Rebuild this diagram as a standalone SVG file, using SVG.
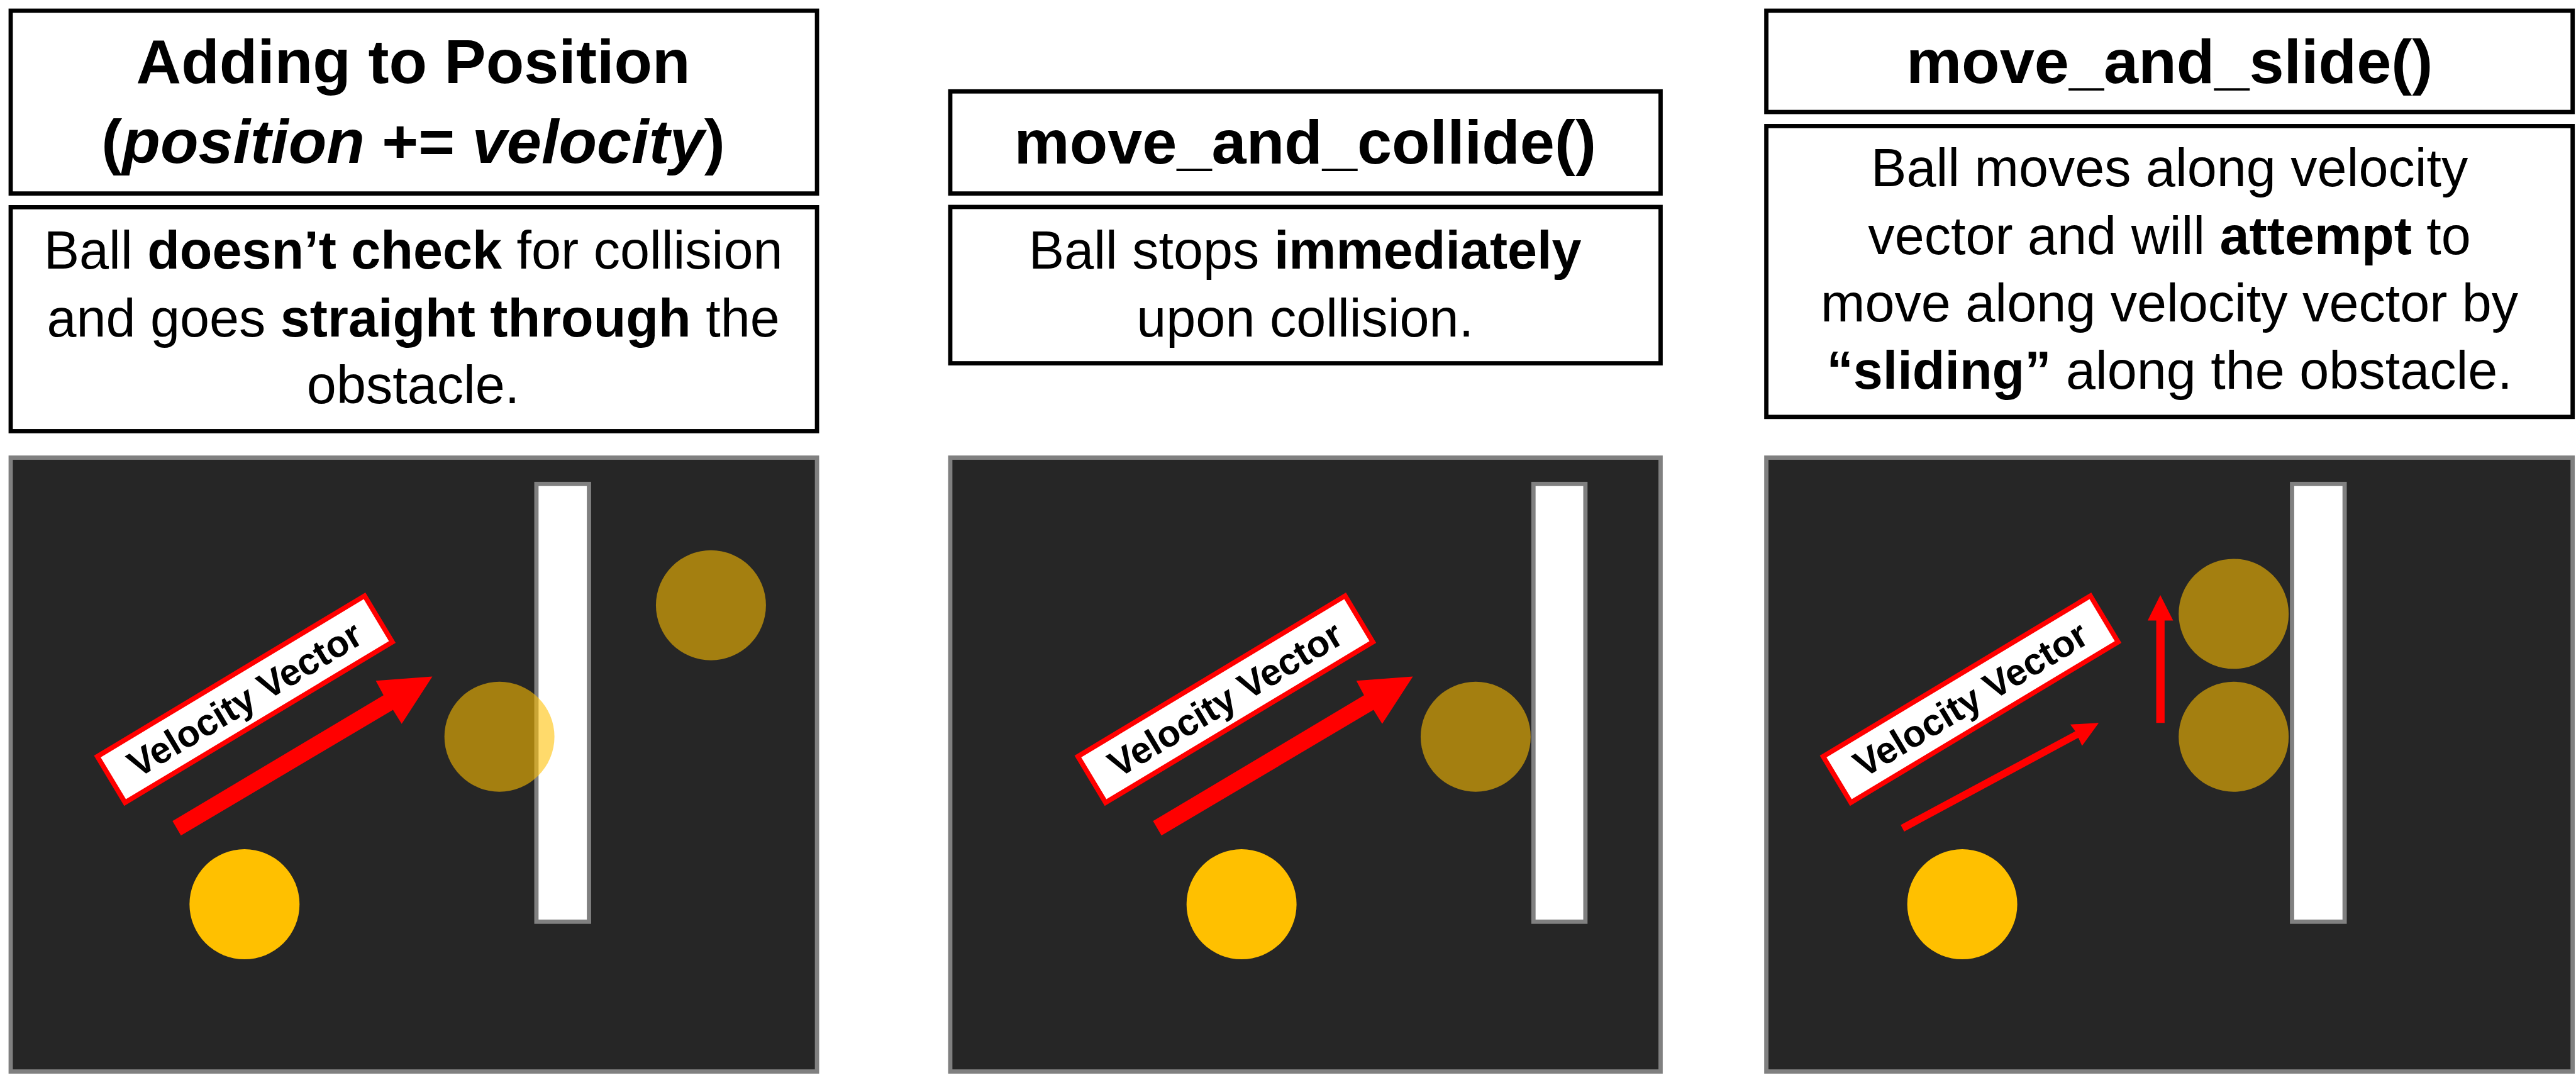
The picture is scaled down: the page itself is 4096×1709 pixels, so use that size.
<svg xmlns="http://www.w3.org/2000/svg" width="4096" height="1709" viewBox="0 0 4096 1709">
<style>
.box{fill:#fff;stroke:#000;stroke-width:7}
.panel{fill:#262626;stroke:#808080;stroke-width:7}
.wall{fill:#fff;stroke:#808080;stroke-width:7}
.ball{fill:#FFC000}
.ghost{fill:#FFC000;fill-opacity:0.58}
.lblbox{fill:#fff;stroke:#f00;stroke-width:8}
.lbl{font-family:"Liberation Sans",Arial,sans-serif;font-weight:bold;font-size:61px;text-anchor:middle;fill:#000}
.title{font-family:"Liberation Sans",Arial,sans-serif;font-weight:bold;font-size:102px;text-anchor:middle;fill:#000}
.desc{font-family:"Liberation Sans",Arial,sans-serif;font-weight:normal;font-size:87px;text-anchor:middle;fill:#000}
.b{font-weight:bold}
.i{font-style:italic}
.arrow{fill:#f00}
</style>
<rect width="4096" height="1709" fill="#fff"/>
<g transform="scale(0.972)">
  <!-- Column 1 -->
  <g id="title1">
    <rect class="box" x="17.5" y="17.5" width="1319" height="299"/>
    <text class="title" x="676" y="136">Adding to Position</text>
    <text class="title" x="676" y="266">(<tspan class="i">position</tspan> += <tspan class="i">velocity</tspan>)</text>
  </g>
  <g id="desc1">
    <rect class="box" x="17.5" y="338.9" width="1319" height="366.3"/>
    <text class="desc" x="676" y="439">Ball <tspan class="b">doesn’t check</tspan> for collision</text>
    <text class="desc" x="676" y="550">and goes <tspan class="b">straight through</tspan> the</text>
    <text class="desc" x="676" y="659">obstacle.</text>
  </g>
  <g id="panel1">
    <rect class="panel" x="17.5" y="748.5" width="1319" height="1004"/>
    <rect class="wall" x="877.5" y="791.5" width="86" height="716"/>
    <circle class="ball" cx="400" cy="1479" r="90"/>
    <circle class="ghost" cx="817" cy="1205" r="90"/>
    <circle class="ghost" cx="1163" cy="990" r="90"/>
    <g transform="translate(400.5,1143.6) rotate(-31)">
      <rect class="lblbox" x="-255" y="-44" width="510" height="88"/>
      <text class="lbl" x="0" y="21">Velocity Vector</text>
    </g>
  </g>

  <!-- Column 2 -->
  <g id="title2">
    <rect class="box" x="1554.5" y="149.5" width="1162" height="167"/>
    <text class="title" x="2135" y="267">move_and_collide()</text>
  </g>
  <g id="desc2">
    <rect class="box" x="1554.5" y="338.5" width="1162" height="255.7"/>
    <text class="desc" x="2135" y="439">Ball stops <tspan class="b">immediately</tspan></text>
    <text class="desc" x="2135" y="550">upon collision.</text>
  </g>
  <g id="panel2">
    <rect class="panel" x="1554.5" y="748.5" width="1162" height="1004"/>
    <rect class="wall" x="2508.5" y="791.5" width="85" height="716"/>
    <circle class="ball" cx="2031" cy="1479" r="90"/>
    <circle class="ghost" cx="2414" cy="1205" r="90"/>
    <g transform="translate(2004.5,1143.6) rotate(-31)">
      <rect class="lblbox" x="-255" y="-44" width="510" height="88"/>
      <text class="lbl" x="0" y="21">Velocity Vector</text>
    </g>
  </g>

  <!-- Column 3 -->
  <g id="title3">
    <rect class="box" x="2889.5" y="17.5" width="1319" height="165.7"/>
    <text class="title" x="3549" y="136">move_and_slide()</text>
  </g>
  <g id="desc3">
    <rect class="box" x="2889.5" y="206.2" width="1319" height="475.7"/>
    <text class="desc" x="3549" y="305">Ball moves along velocity</text>
    <text class="desc" x="3549" y="416">vector and will <tspan class="b">attempt</tspan> to</text>
    <text class="desc" x="3549" y="526">move along velocity vector by</text>
    <text class="desc" x="3549" y="636"><tspan class="b">“sliding”</tspan> along the obstacle.</text>
  </g>
  <g id="panel3">
    <rect class="panel" x="2889.5" y="748.5" width="1319" height="1004"/>
    <rect class="wall" x="3749.5" y="791.5" width="86" height="716"/>
    <circle class="ball" cx="3210" cy="1479" r="90"/>
    <circle class="ghost" cx="3654" cy="1004" r="90"/>
    <circle class="ghost" cx="3654" cy="1205" r="90"/>
    <g transform="translate(3223.7,1143.6) rotate(-31)">
      <rect class="lblbox" x="-255" y="-44" width="510" height="88"/>
      <text class="lbl" x="0" y="21">Velocity Vector</text>
    </g>
  </g>

  <g id="connectors">
    <polygon class="arrow" points="282.2,1342.9 627.4,1137.2 614.8,1113.5 707.3,1106.4 657.1,1183.9 642.9,1161 296,1366.6"/>
    <polygon class="arrow" points="1886.2,1342.9 2231.4,1137.2 2218.8,1113.5 2311.3,1106.4 2261.1,1183.9 2246.9,1161 1900,1366.6"/>
    <polygon class="arrow" points="3109.3,1349.3 3395,1196 3386.7,1185 3433.3,1182.3 3406,1220 3400,1206.7 3115,1360"/>
    <polygon class="arrow" points="3527.3,1182.3 3527.3,1015 3513.3,1015 3534,973.3 3555,1015 3541,1015 3541,1182.3"/>
  </g>
</g>
</svg>
